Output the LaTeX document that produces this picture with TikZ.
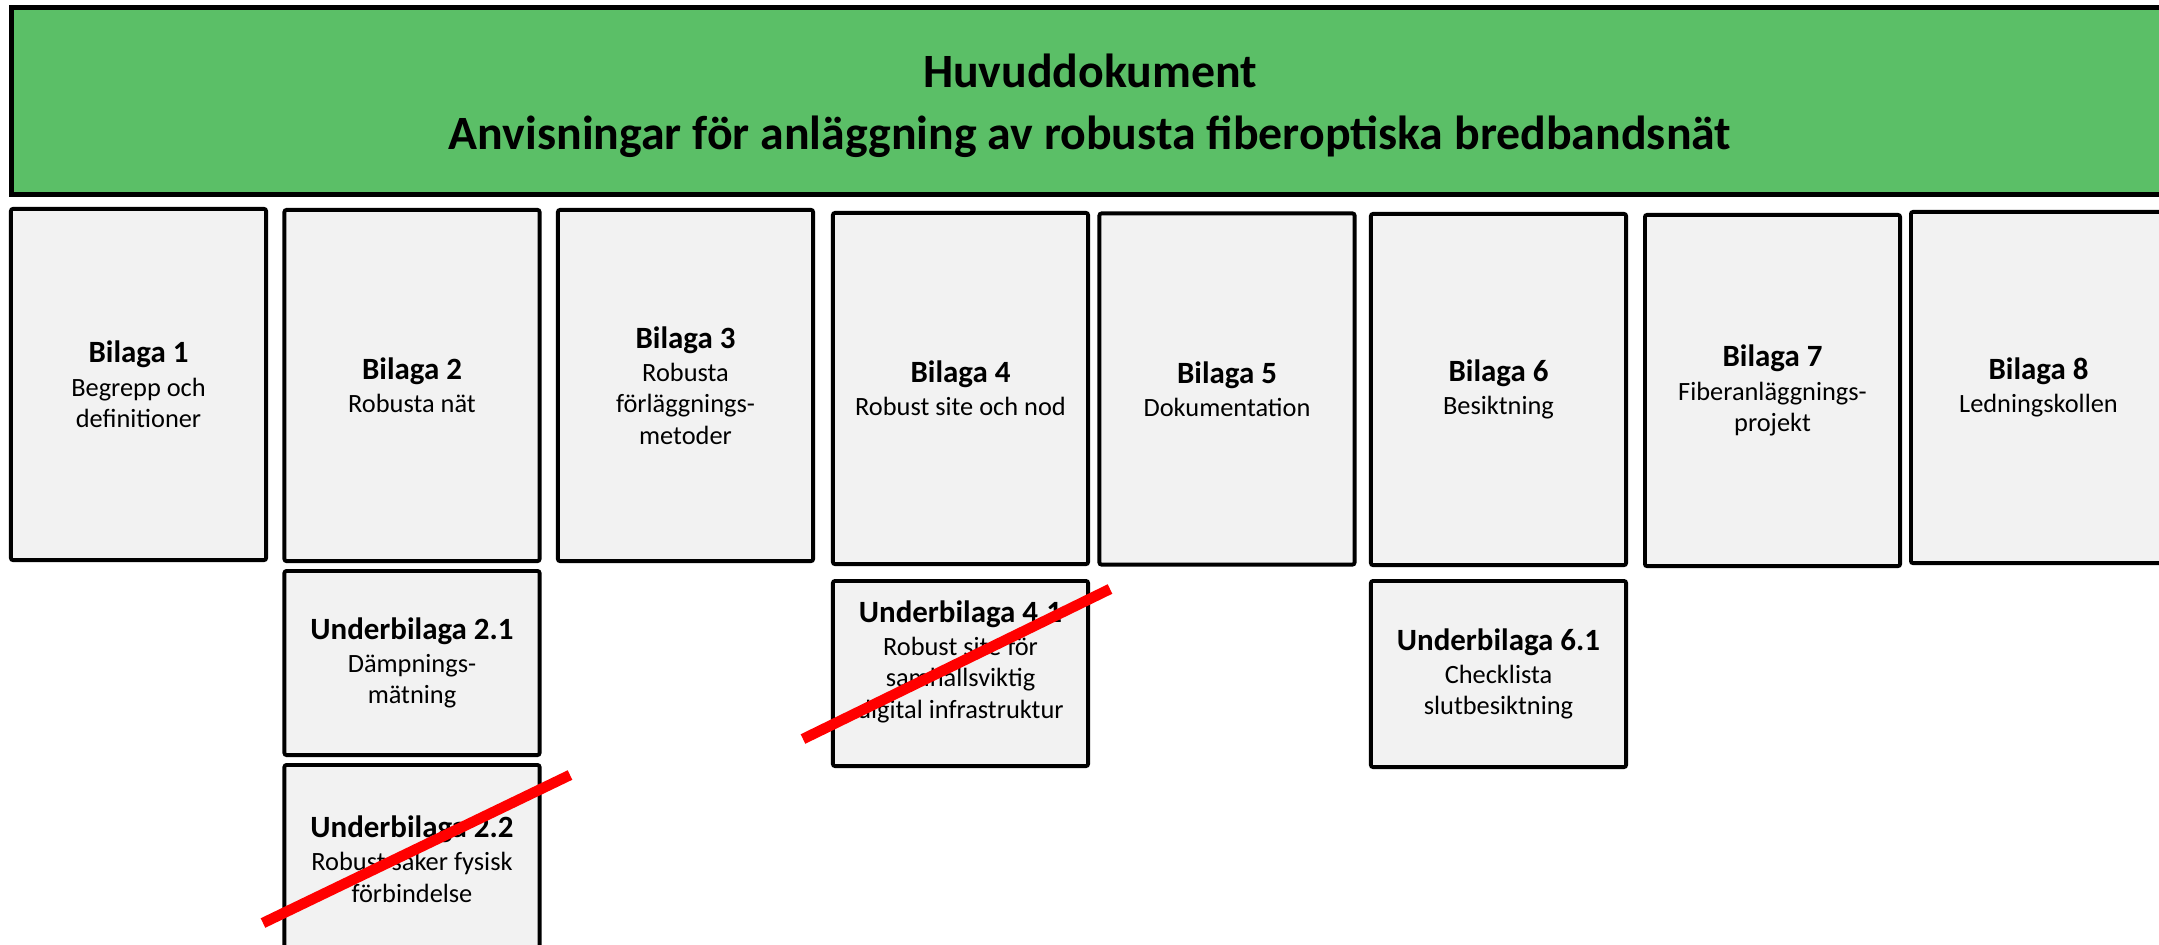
\documentclass[tikz,border=0pt]{standalone}
\usepackage{fontspec}
\setmainfont{Carlito}
\definecolor{headgreen}{RGB}{91,191,103}
\definecolor{sheetgrey}{RGB}{242,242,242}
\newcommand{\bilnamn}[1]{{\fontsize{8.8pt}{8.9pt}\selectfont\bfseries #1}}

\begin{document}
\begin{tikzpicture}
  [x = .01cm, y = -.01cm,
   sheet/.style = {draw = black, line width = 1.1pt, fill = sheetgrey,
     rounded corners = .6pt, minimum width = 2.55cm, inner sep = 0pt,
     align = center, font = \fontsize{7.5pt}{8.9pt}\selectfont},
   strike/.style = {draw = red, line width = 3pt}]
  \useasboundingbox (0,0) rectangle (2159,944);
  \clip (0,0) rectangle (2159,944);
  \fill[white] (0,0) rectangle (2159,944);
  % huvuddokument
  \node[draw = black, line width = 1.4pt, fill = headgreen, inner sep = 0pt,
    minimum width = 21.56cm, minimum height = 1.86cm] (huvud) at (1090,101) {};
  \node[align = center, inner sep = 0pt,
    font = \fontsize{13.6pt}{17.6pt}\selectfont\bfseries] (huvudtxt) at (1090,106)
    {Huvuddokument\\Anvisningar för anläggning av robusta fiberoptiska bredbandsnät};
  % bilagor
  \foreach \n/\x/\y/\t/\s in {b1/138.5/384.5/1/{Begrepp och\\definitioner},
      b2/412/385.5/2/{Robusta nät}, b3/685.5/385.5/3/{Robusta\\förläggnings-\\metoder},
      b4/960.5/388.5/4/{Robust site och nod}, b5/1227/389/5/{Dokumentation},
      b6/1498.5/389.5/6/{Besiktning}, b7/1772.5/390.5/7/{Fiberanläggnings-\\projekt},
      b8/2038.5/387.5/8/{Ledningskollen}}{
    \node[sheet, minimum height = 3.51cm] (\n) at (\x,\y) {\bilnamn{Bilaga \t}\\[.6pt]\s};
  }
  % underbilagor
  \foreach \n/\x/\y/\h/\t/\s in {u21/412/663/1.84/2.1/{Dämpnings-\\mätning},
      u22/412/859/1.88/2.2/{Robust säker fysisk\\förbindelse},
      u61/1498.5/674/1.86/6.1/{Checklista\\slutbesiktning}}{
    \node[sheet, minimum height = \h cm] (\n) at (\x,\y) {\bilnamn{Underbilaga \t}\\[.6pt]\s};
  }
  \node[sheet, minimum height = 1.85cm] (u41) at (960.5,673.5) {};
  \node[align = center, inner sep = 0pt, font = \fontsize{7.5pt}{8.9pt}\selectfont]
    (u41txt) at (960.5,661.5)
    {\bilnamn{Underbilaga 4.1}\\[.6pt]Robust site för\\samhällsviktig\\digital infrastruktur};
  % struket
  \draw[strike] (263,923) -- (570,775);
  \draw[strike] (803,739) -- (1110,589);
\end{tikzpicture}
\end{document}
